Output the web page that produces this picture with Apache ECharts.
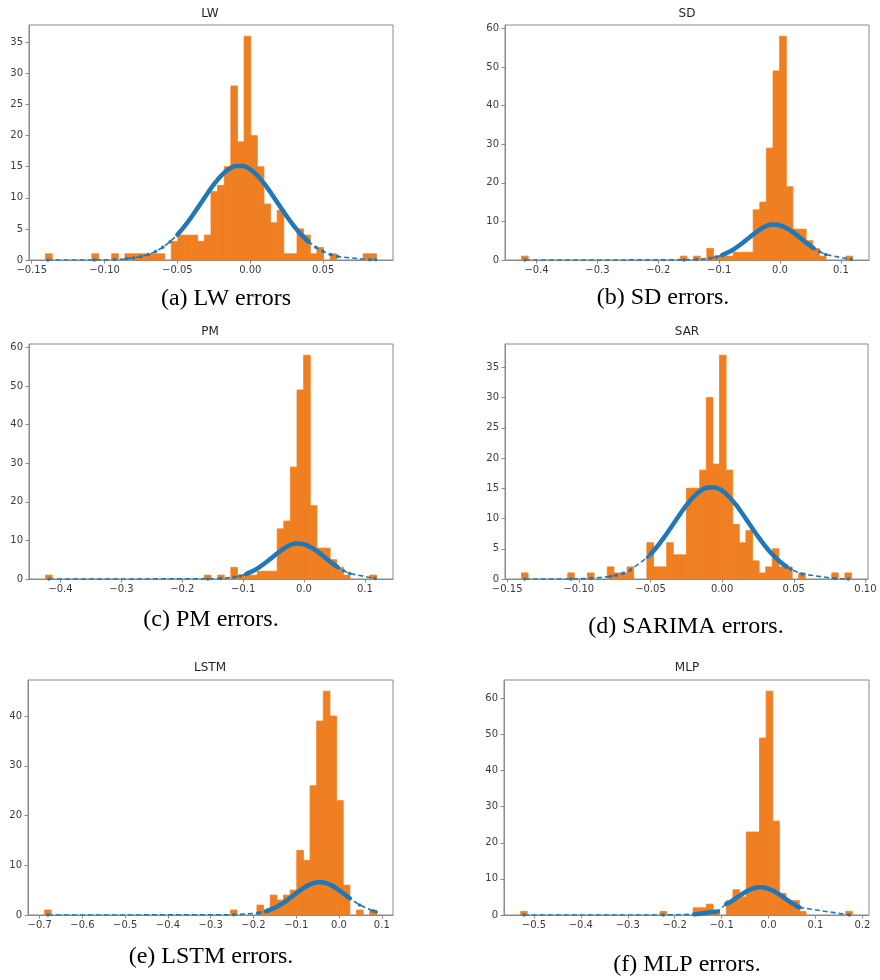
<!DOCTYPE html>
<html>
<head>
<meta charset="utf-8">
<script src="https://cdn.jsdelivr.net/npm/echarts@6/dist/echarts.min.js"></script>
<style>
html,body{margin:0;padding:0;background:#fff;}
#chart{width:880px;height:980px;}
</style>
</head>
<body>
<div id="chart"></div>
<script>
// ================= DATA =================
// Histogram: data range [min,max] split into 50 equal bins, counts per bin.
const lwRange = [-0.1405, 0.0866];
const lwCounts = [1,0,0,0,0,0,0,1,0,0, 1,0,1,1,1,1,1,1,0,3, 4,4,4,3,4,11,12,15,28,19, 36,20,15,9,6,8,1,1,5,4, 1,2,0,1,0,0,0,0,1,1];
const lwFitX = [-0.139,-0.107,-0.093,-0.085,-0.080,-0.075,-0.070,-0.065,-0.060,-0.055,-0.050,-0.045,-0.040,-0.035,-0.030,-0.025,-0.020,-0.015,-0.010,-0.005,0.000,0.005,0.010,0.015,0.020,0.025,0.030,0.035,0.040,0.045,0.050,0.055,0.060,0.082,0.086];
const lwFitY = [0.00,0.01,0.07,0.19,0.33,0.55,0.88,1.37,2.04,2.94,4.08,5.46,7.04,8.76,10.51,12.16,13.56,14.59,15.13,15.13,14.59,13.56,12.16,10.51,8.76,7.04,5.46,4.08,2.94,2.04,1.37,0.88,0.55,0.05,0.03];
const lwDense = [[-0.050, 0.040]];
const lwXTicks = [-0.15,-0.10,-0.05,0.00,0.05];
const lwYTicks = [0,5,10,15,20,25,30,35];

const sdRange = [-0.4246, 0.1190];
const sdCounts = [1,0,0,0,0,0,0,0,0,0, 0,0,0,0,0,0,0,0,0,0, 0,0,0,0,1,0,1,0,3,1, 1,1,2,2,2,13,15,29,49,58, 19,8,8,5,3,1,0,0,0,1];
const sdFitX = [-0.419,-0.158,-0.137,-0.115,-0.105,-0.095,-0.085,-0.075,-0.065,-0.055,-0.045,-0.035,-0.025,-0.015,-0.005,0.005,0.015,0.025,0.035,0.045,0.055,0.065,0.075,0.117];
const sdFitY = [0.00,0.03,0.12,0.47,0.80,1.29,1.99,2.90,4.00,5.25,6.52,7.69,8.60,9.18,9.16,8.73,7.89,6.77,5.50,4.24,3.10,2.15,1.41,0.14];
const sdDense = [[-0.100, 0.055]];
const sdXTicks = [-0.4,-0.3,-0.2,-0.1,0.0,0.1];
const sdYTicks = [0,10,20,30,40,50,60];

const pmRange = [-0.4246, 0.1190];
const pmCounts = [1,0,0,0,0,0,0,0,0,0, 0,0,0,0,0,0,0,0,0,0, 0,0,0,0,1,0,1,0,3,1, 1,1,2,2,2,13,15,29,49,58, 19,8,8,5,3,1,0,0,0,1];
const pmFitX = [-0.419,-0.158,-0.137,-0.115,-0.105,-0.095,-0.085,-0.075,-0.065,-0.055,-0.045,-0.035,-0.025,-0.015,-0.005,0.005,0.015,0.025,0.035,0.045,0.055,0.065,0.075,0.117];
const pmFitY = [0.00,0.03,0.12,0.47,0.80,1.29,1.99,2.90,4.00,5.25,6.52,7.69,8.60,9.18,9.16,8.73,7.89,6.77,5.50,4.24,3.10,2.15,1.41,0.14];
const pmDense = [[-0.100, 0.055]];
const pmXTicks = [-0.4,-0.3,-0.2,-0.1,0.0,0.1];
const pmYTicks = [0,10,20,30,40,50,60];

const sarRange = [-0.1400, 0.0903];
const sarCounts = [1,0,0,0,0,0,0,1,0,0, 1,0,0,2,1,1,2,0,0,6, 2,2,6,4,4,15,15,18,30,19, 37,18,9,6,8,3,1,2,5,2, 2,0,1,0,0,0,0,1,0,1];
const sarFitX = [-0.1377,-0.1055,-0.0916,-0.078,-0.074,-0.069,-0.064,-0.052,-0.050,-0.045,-0.040,-0.035,-0.030,-0.025,-0.020,-0.015,-0.010,-0.005,0.000,0.005,0.010,0.015,0.020,0.025,0.030,0.035,0.040,0.045,0.048,0.0558,0.0788,0.088];
const sarFitY = [0.00,0.01,0.09,0.41,0.61,0.97,1.49,3.59,4.08,5.46,7.04,8.76,10.51,12.16,13.56,14.59,15.13,15.13,14.59,13.56,12.16,10.51,8.76,7.04,5.46,4.08,2.94,2.04,1.61,0.82,0.07,0.02];
const sarDense = [[-0.050, 0.045]];
const sarXTicks = [-0.15,-0.10,-0.05,0.00,0.05,0.10];
const sarYTicks = [0,5,10,15,20,25,30,35];

const lstmRange = [-0.6885, 0.0874];
const lstmCounts = [1,0,0,0,0,0,0,0,0,0, 0,0,0,0,0,0,0,0,0,0, 0,0,0,0,0,0,0,0,1,0, 0,0,2,1,4,3,4,5,13,11, 26,39,45,40,23,6,0,1,0,1];
const lstmFitX = [-0.6807,-0.246,-0.19,-0.185,-0.17,-0.16,-0.15,-0.14,-0.13,-0.12,-0.11,-0.10,-0.09,-0.08,-0.07,-0.06,-0.05,-0.04,-0.03,-0.02,-0.01,0.00,0.01,0.02,0.025,0.048,0.08,0.087];
const lstmFitY = [0.00,0.03,0.37,0.45,0.78,1.08,1.46,1.92,2.45,3.05,3.70,4.36,5.00,5.58,6.06,6.40,6.58,6.58,6.40,6.06,5.58,5.00,4.36,3.70,3.37,2.02,0.78,0.61];
const lstmDense = [[-0.170, 0.025]];
const lstmXTicks = [-0.7,-0.6,-0.5,-0.4,-0.3,-0.2,-0.1,0.0,0.1];
const lstmYTicks = [0,10,20,30,40];

const mlpRange = [-0.5284, 0.1787];
const mlpCounts = [1,0,0,0,0,0,0,0,0,0, 0,0,0,0,0,0,0,0,0,0, 0,1,0,0,0,0,2,2,3,1, 0,4,7,5,23,23,49,62,26,6, 4,4,1,0,0,0,0,0,0,1];
const mlpFitX = [-0.5214,-0.2245,-0.158,-0.150,-0.143,-0.136,-0.128,-0.120,-0.108,-0.090,-0.080,-0.070,-0.060,-0.050,-0.040,-0.030,-0.020,-0.010,0.000,0.010,0.020,0.030,0.040,0.050,0.060,0.066,0.172];
const mlpFitY = [0.00,0.00,0.20,0.30,0.40,0.55,0.70,0.85,1.00,3.10,3.72,4.61,5.50,6.32,7.01,7.48,7.69,7.62,7.27,6.69,5.93,5.06,4.16,3.29,2.51,2.10,0.01];
const mlpDense = [[-0.158, -0.108], [-0.090, 0.066]];
const mlpXTicks = [-0.5,-0.4,-0.3,-0.2,-0.1,0.0,0.1,0.2];
const mlpYTicks = [0,10,20,30,40,50,60];

const panelTitles = ['LW','SD','PM','SAR','LSTM','MLP'];
const captions = ['(a) LW errors','(b) SD errors.','(c) PM errors.','(d) SARIMA errors.','(e) LSTM errors.','(f) MLP errors.'];

// ================= LAYOUT / STYLE =================
const ORANGE = '#f07f22';
const BLUE = '#2277b6';
const FRAME = '#8a8a8a';
const TICKTXT = '#3c3c3c';

const panels = [
  {range: lwRange,  counts: lwCounts,  fx: lwFitX,  fy: lwFitY,  dense: lwDense,  xt: lwXTicks,  yt: lwYTicks,  dec: 2,
   grid: {left: 29, top: 25, width: 364, height: 235}, title: [210, 14], cap: [226, 299]},
  {range: sdRange,  counts: sdCounts,  fx: sdFitX,  fy: sdFitY,  dense: sdDense,  xt: sdXTicks,  yt: sdYTicks,  dec: 1,
   grid: {left: 505, top: 25, width: 364, height: 235}, title: [687, 14], cap: [663, 298]},
  {range: pmRange,  counts: pmCounts,  fx: pmFitX,  fy: pmFitY,  dense: pmDense,  xt: pmXTicks,  yt: pmYTicks,  dec: 1,
   grid: {left: 29, top: 344, width: 364, height: 235}, title: [210, 332], cap: [211, 620]},
  {range: sarRange, counts: sarCounts, fx: sarFitX, fy: sarFitY, dense: sarDense, xt: sarXTicks, yt: sarYTicks, dec: 2,
   grid: {left: 505, top: 344, width: 363, height: 235}, title: [687, 332], cap: [686, 627]},
  {range: lstmRange,counts: lstmCounts,fx: lstmFitX,fy: lstmFitY,dense: lstmDense,xt: lstmXTicks,yt: lstmYTicks,dec: 1,
   grid: {left: 28, top: 680, width: 365, height: 235}, title: [210, 668], cap: [211, 957]},
  {range: mlpRange, counts: mlpCounts, fx: mlpFitX, fy: mlpFitY, dense: mlpDense, xt: mlpXTicks, yt: mlpYTicks, dec: 1,
   grid: {left: 504, top: 680, width: 365, height: 235}, title: [687, 668], cap: [687, 965]}
];

function fmt(dec) {
  return function (v) {
    const s = Math.abs(v).toFixed(dec);
    return (v < -1e-9 ? '\u2212' : '') + s;
  };
}

const option = {
  animation: false,
  backgroundColor: '#fff',
  grid: [], xAxis: [], yAxis: [], series: [], title: []
};

panels.forEach(function (p, i) {
  const nb = p.counts.length;
  const w = (p.range[1] - p.range[0]) / nb;
  const span = p.range[1] - p.range[0];
  const maxC = Math.max.apply(null, p.counts);

  option.grid.push(Object.assign({show: true, borderColor: FRAME, borderWidth: 1, backgroundColor: 'transparent', containLabel: false}, p.grid));

  option.xAxis.push({
    gridIndex: i, type: 'value',
    min: p.range[0] - 0.05 * span, max: p.range[1] + 0.05 * span,
    axisLine: {show: true, onZero: false, lineStyle: {color: FRAME, width: 1}},
    axisTick: {show: true, inside: false, length: 3.5, lineStyle: {color: FRAME}, customValues: p.xt},
    axisLabel: {show: true, customValues: p.xt, formatter: fmt(p.dec), fontSize: 10, fontFamily: 'DejaVu Sans', color: TICKTXT, margin: 5},
    splitLine: {show: false}
  });
  option.yAxis.push({
    gridIndex: i, type: 'value',
    min: 0, max: maxC * 1.05,
    axisLine: {show: true, onZero: false, lineStyle: {color: FRAME, width: 1}},
    axisTick: {show: true, inside: false, length: 3.5, lineStyle: {color: FRAME}, customValues: p.yt},
    axisLabel: {show: true, customValues: p.yt, formatter: function (v) { return String(Math.round(v)); }, fontSize: 10, fontFamily: 'DejaVu Sans', color: TICKTXT, margin: 6},
    splitLine: {show: false}
  });

  // histogram bars
  option.series.push({
    type: 'custom', xAxisIndex: i, yAxisIndex: i, silent: true, z: 2,
    data: p.counts.map(function (c, k) { return [p.range[0] + k * w, p.range[0] + (k + 1) * w, c]; }),
    encode: {x: [0, 1], y: 2},
    renderItem: function (params, api) {
      const c = api.value(2);
      if (!c) return null;
      const p0 = api.coord([api.value(0), c]);
      const p1 = api.coord([api.value(1), 0]);
      return {type: 'rect', shape: {x: p0[0], y: p0[1], width: p1[0] - p0[0], height: p1[1] - p0[1]},
              style: {fill: ORANGE, stroke: ORANGE, lineWidth: 0.8}};
    }
  });

  // fitted curve: dashed line with point markers
  option.series.push({
    type: 'line', xAxisIndex: i, yAxisIndex: i, silent: true, z: 3,
    data: p.fx.map(function (x, k) { return [x, p.fy[k]]; }),
    symbol: 'circle', symbolSize: 3.5, showSymbol: true, showAllSymbol: true,
    itemStyle: {color: BLUE},
    lineStyle: {color: BLUE, width: 1.6, type: [5, 3]}
  });

  // dense marker band (thick part of the curve)
  p.dense.forEach(function (r) {
    const pts = [];
    p.fx.forEach(function (x, k) { if (x >= r[0] - 1e-9 && x <= r[1] + 1e-9) pts.push([x, p.fy[k]]); });
    option.series.push({
      type: 'line', xAxisIndex: i, yAxisIndex: i, silent: true, z: 4,
      data: pts, symbol: 'none', smooth: 0.3,
      lineStyle: {color: BLUE, width: 4.5, cap: 'round', join: 'round'}
    });
  });

  option.title.push({
    text: panelTitles[i], left: p.title[0], top: p.title[1], textAlign: 'center', textVerticalAlign: 'middle', padding: 0,
    textStyle: {fontFamily: 'DejaVu Sans', fontSize: 12, fontWeight: 'normal', color: '#262626'}
  });
  option.title.push({
    text: captions[i], left: p.cap[0], top: p.cap[1], textAlign: 'center', textVerticalAlign: 'middle', padding: 0,
    textStyle: {fontFamily: 'Liberation Serif', fontSize: 24, fontWeight: 'normal', color: '#000'}
  });
});

const chart = echarts.init(document.getElementById('chart'), null, {renderer: 'canvas', width: 880, height: 980});
chart.setOption(option);
</script>
</body>
</html>
